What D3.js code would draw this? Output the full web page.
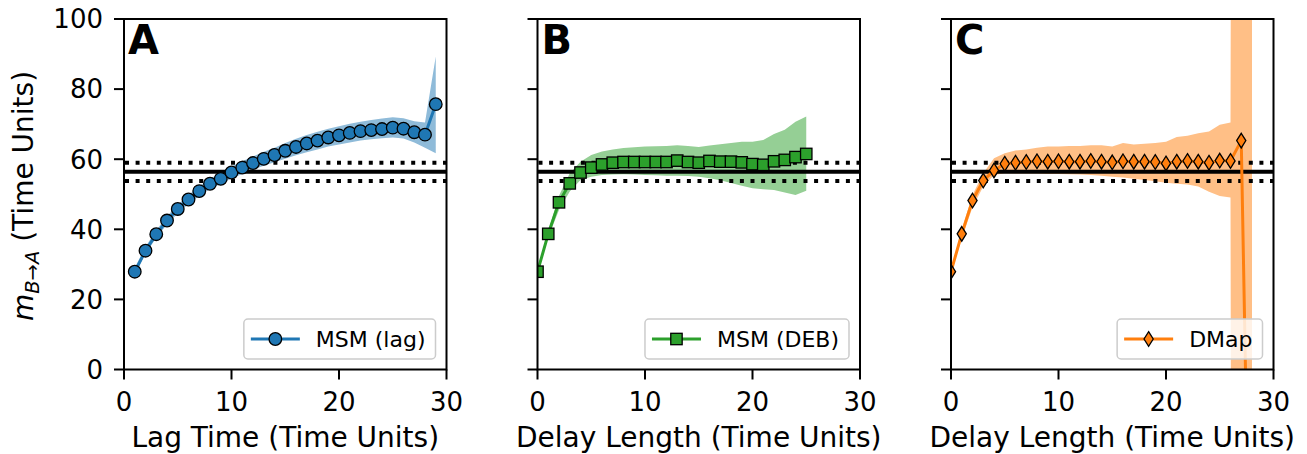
<!DOCTYPE html>
<html><head><meta charset="utf-8">
<script src="https://cdn.jsdelivr.net/npm/d3@7"></script>
<style>
html,body{margin:0;padding:0;background:#fff;}
svg{display:block;font-family:"DejaVu Sans",sans-serif;}
</style></head>
<body>
<svg id="chart" width="1307" height="454"></svg>
<script>
// ---------------- data ----------------
const xTicks = [0, 10, 20, 30];
const yTicks = [0, 20, 40, 60, 80, 100];

const refMean = 56.4;
const refLow = 53.8;
const refHigh = 59.0;

const lagTimes = [1,2,3,4,5,6,7,8,9,10,11,12,13,14,15,16,17,18,19,20,21,22,23,24,25,26,27,28,29];
const msmLag =     [27.9,33.9,38.6,42.5,45.8,48.5,50.9,53.0,54.4,56.2,57.6,58.9,60.1,61.2,62.4,63.5,64.5,65.3,66.2,66.8,67.5,68.0,68.3,68.6,69.0,68.7,67.7,67.0,75.7];
const msmLagLow =  [27.0,33.0,37.6,41.4,44.6,47.2,49.5,51.5,52.9,54.5,55.8,57.0,58.1,59.1,60.1,61.1,62.0,62.8,63.6,64.2,64.8,65.3,65.7,66.0,66.2,65.9,64.8,63.3,61.7];
const msmLagHigh = [29.0,35.0,39.7,43.7,47.0,49.8,52.3,54.5,56.0,57.9,59.4,60.8,62.1,63.3,64.6,65.8,66.9,67.8,68.7,69.4,70.1,70.7,71.2,71.6,72.0,71.7,70.8,70.5,89.3];

const debDelays = [0,1,2,3,4,5,6,7,8,9,10,11,12,13,14,15,16,17,18,19,20,21,22,23,24,25];
const msmDeb =     [27.9,38.7,47.7,53.1,56.2,57.6,58.5,59.0,59.2,59.2,59.2,59.2,59.2,59.6,59.2,59.0,59.5,59.3,59.3,59.1,58.6,58.4,59.4,59.8,60.6,61.5];
const msmDebLow =  [27.5,37.8,45.5,50.8,54.1,55.0,55.5,55.6,55.7,55.6,55.5,55.4,55.3,55.3,55.2,55.0,54.6,54.0,53.2,52.4,51.7,51.4,51.2,50.5,49.8,51.0];
const msmDebHigh = [28.3,39.5,49.6,56.0,59.3,61.2,62.2,62.8,63.2,63.4,63.6,63.7,63.8,64.0,63.8,63.5,63.9,64.3,64.6,65.0,65.0,65.5,67.2,68.4,70.7,72.2];

const dmapDelays = [0,1,2,3,4,5,6,7,8,9,10,11,12,13,14,15,16,17,18,19,20,21,22,23,24,25,26,27,28];
const dmap =     [27.9,38.7,48.2,53.9,56.8,58.7,59.0,59.2,59.4,59.3,59.4,59.3,59.3,59.5,59.3,59.1,59.4,59.3,59.3,59.2,58.8,59.3,59.5,59.3,59.0,59.6,59.5,65.3,-100];
const dmapLow =  [27.4,37.4,46.3,52.2,55.5,56.0,55.9,55.9,55.9,55.8,55.8,55.7,55.6,55.5,55.3,55.0,54.8,54.4,54.1,53.7,53.3,53.0,52.8,52.2,50.7,49.5,49.1,-1500,-1500];
const dmapHigh = [28.4,40.0,49.8,56.0,60.3,61.7,62.5,62.8,63.3,63.6,63.6,63.8,63.8,64.0,64.0,63.6,64.6,64.2,64.4,64.6,65.0,66.3,66.7,67.4,67.9,69.8,70.5,1500,1500];

const panelLetters = ["A", "B", "C"];
const xLabels = ["Lag Time (Time Units)", "Delay Length (Time Units)", "Delay Length (Time Units)"];
const seriesNames = ["MSM (lag)", "MSM (DEB)", "DMap"];

// ---------------- layout ----------------
const svg = d3.select("#chart");
const axTop = 19, axBottom = 369.5, axW = 322.5;
const lefts = [124, 537.5, 951];
const colors = ["#1f77b4", "#2ca02c", "#ff7f0e"];
const bandColors = ["#8fbbd9", "#95cf95", "#ffbf86"];
const markers = ["circle", "square", "diamond"];

const panels = [
  {x: lagTimes, y: msmLag, lo: msmLagLow, hi: msmLagHigh},
  {x: debDelays, y: msmDeb, lo: msmDebLow, hi: msmDebHigh},
  {x: dmapDelays, y: dmap, lo: dmapLow, hi: dmapHigh}
];

const yScale = d3.scaleLinear().domain([0, 100]).range([axBottom, axTop]);

function drawMarker(sel, type, cx, cy) {
  if (type === "circle") {
    sel.append("circle").attr("cx", cx).attr("cy", cy).attr("r", 6.3);
  } else if (type === "square") {
    sel.append("rect").attr("x", cx - 5.7).attr("y", cy - 5.7).attr("width", 11.4).attr("height", 11.4);
  } else {
    sel.append("path").attr("d", `M${cx},${cy - 7.3}L${cx + 4.6},${cy}L${cx},${cy + 7.3}L${cx - 4.6},${cy}Z`);
  }
}

panels.forEach((p, i) => {
  const L = lefts[i], R = L + axW;
  const xScale = d3.scaleLinear().domain([0, 30]).range([L, R]);
  const g = svg.append("g");
  const clipId = "clip" + i;
  svg.append("clipPath").attr("id", clipId).append("rect")
    .attr("x", L).attr("y", axTop).attr("width", axW).attr("height", axBottom - axTop);
  const pg = g.append("g").attr("clip-path", `url(#${clipId})`);

  const idx = p.x.map((_, k) => k);
  // band
  pg.append("path")
    .attr("d", d3.area().x(k => xScale(p.x[k])).y0(k => yScale(p.lo[k])).y1(k => yScale(p.hi[k]))(idx))
    .attr("fill", bandColors[i]).attr("stroke", "none");

  // reference lines
  pg.append("line").attr("x1", L).attr("x2", R).attr("y1", yScale(refMean)).attr("y2", yScale(refMean))
    .attr("stroke", "#000").attr("stroke-width", 4);
  [refLow, refHigh].forEach(v => {
    pg.append("line").attr("x1", L + 1).attr("x2", R).attr("y1", yScale(v)).attr("y2", yScale(v))
      .attr("stroke", "#000").attr("stroke-width", 4).attr("stroke-dasharray", "4,6.6");
  });

  // data line
  pg.append("path")
    .attr("d", d3.line().x(k => xScale(p.x[k])).y(k => yScale(p.y[k]))(idx))
    .attr("fill", "none").attr("stroke", colors[i]).attr("stroke-width", 3).attr("stroke-linejoin", "round");

  // markers
  const mg = pg.append("g").attr("fill", colors[i]).attr("stroke", "#000").attr("stroke-width", 1.3);
  idx.forEach(k => {
    const cy = yScale(p.y[k]);
    if (cy > axBottom + 20 || cy < axTop - 20) return;
    drawMarker(mg, markers[i], xScale(p.x[k]), cy);
  });

  // spines
  g.append("rect").attr("x", L).attr("y", axTop).attr("width", axW).attr("height", axBottom - axTop)
    .attr("fill", "none").attr("stroke", "#000").attr("stroke-width", 2);

  // x ticks
  xTicks.forEach(t => {
    g.append("line").attr("x1", xScale(t)).attr("x2", xScale(t)).attr("y1", axBottom).attr("y2", axBottom + 10)
      .attr("stroke", "#000").attr("stroke-width", 2);
    g.append("text").attr("x", xScale(t)).attr("y", 411).attr("text-anchor", "middle")
      .attr("font-size", 26).attr("fill", "#000").text(t);
  });
  // y ticks
  yTicks.forEach(t => {
    g.append("line").attr("x1", L - 10).attr("x2", L).attr("y1", yScale(t)).attr("y2", yScale(t))
      .attr("stroke", "#000").attr("stroke-width", 2);
    if (i === 0) {
      g.append("text").attr("x", L - 21).attr("y", yScale(t)).attr("dy", "0.36em").attr("text-anchor", "end")
        .attr("font-size", 26).attr("fill", "#000").text(t);
    }
  });

  // x label
  g.append("text").attr("x", (L + R) / 2).attr("y", 447).attr("text-anchor", "middle")
    .attr("font-size", 28).attr("fill", "#000").text(xLabels[i]);

  // panel letter
  g.append("text").attr("x", L + 4).attr("y", 54).attr("font-size", 40).attr("font-weight", "bold")
    .attr("fill", "#000").text(panelLetters[i]);

  // legend
  const lg = g.append("g");
  const txt = lg.append("text").attr("font-size", 22).attr("fill", "#000").text(seriesNames[i]);
  const tw = txt.node().getComputedTextLength();
  const boxW = 7 + 49 + 16 + tw + 10, boxH = 40;
  const bx = R - 11 - boxW, by = axBottom - 10.5 - boxH;
  lg.insert("rect", "text").attr("x", bx).attr("y", by).attr("width", boxW).attr("height", boxH)
    .attr("rx", 4).attr("fill", "#fff").attr("fill-opacity", 0.8).attr("stroke", "#cccccc").attr("stroke-width", 1.5);
  const ly = by + boxH / 2;
  lg.append("line").attr("x1", bx + 7).attr("x2", bx + 56).attr("y1", ly).attr("y2", ly)
    .attr("stroke", colors[i]).attr("stroke-width", 3);
  const lm = lg.append("g").attr("fill", colors[i]).attr("stroke", "#000").attr("stroke-width", 1.3);
  drawMarker(lm, markers[i], bx + 31.5, ly);
  txt.attr("x", bx + 72).attr("y", ly + 8);
});

// y label
const yl = svg.append("text").attr("transform", "translate(33,196) rotate(-90)")
  .attr("text-anchor", "middle").attr("font-size", 28).attr("fill", "#000");
yl.append("tspan").attr("font-style", "italic").text("m");
yl.append("tspan").attr("font-style", "italic").attr("font-size", 19.5).attr("dy", 6).text("B→A");
yl.append("tspan").attr("dy", -6).text(" (Time Units)");
</script>
</body></html>
